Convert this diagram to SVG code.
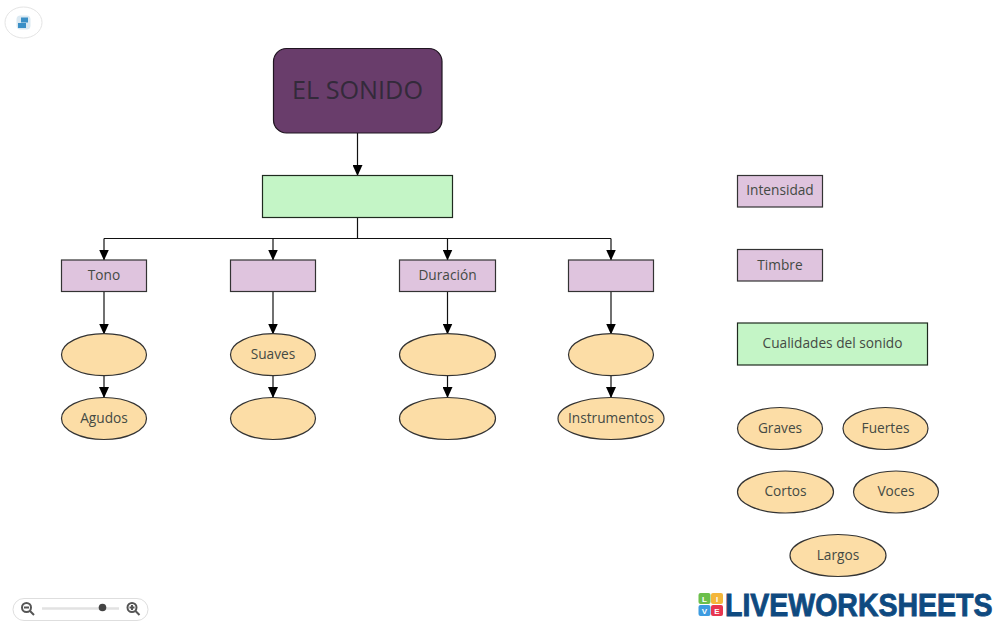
<svg xmlns="http://www.w3.org/2000/svg" width="1000" height="625" viewBox="0 0 1000 625">
<style>
text{font-family:"Open Sans","Noto Sans","Liberation Sans",sans-serif;font-size:13.700px;fill:#444a44;text-anchor:middle}
.p{fill:#dfc4de;stroke:#333;stroke-width:1.200}
.g{fill:#c4f5c6;stroke:#1f2a1f;stroke-width:1.200}
.o{fill:#fcdda6;stroke:#333;stroke-width:1.200}
.c{fill:none;stroke:#111;stroke-width:1.200}
.a{marker-end:url(#arr)}
.ui{fill:none;stroke:#555;stroke-width:2}
.t{font-family:"Liberation Sans",sans-serif;font-size:8px;font-weight:700;fill:#fff}
</style>
<defs>
<marker id="arr" markerUnits="userSpaceOnUse" markerWidth="11" markerHeight="10" refX="10.500" refY="5" orient="auto">
<path d="M0 0L11 5L0 10Z" fill="#000"/>
</marker>
</defs>
<rect width="1000" height="625" fill="#fff"/>
<g id="connectors">
<path class="c a" d="M357.500 133V175.500"/>
<path class="c" d="M357.500 217.500V238.500"/>
<path class="c" d="M104 238.500H611"/>
<path class="c a" d="M104 238.500V260"/>
<path class="c a" d="M273 238.500V260"/>
<path class="c a" d="M447.500 238.500V260"/>
<path class="c a" d="M611 238.500V260"/>
<path class="c a" d="M104 291.500V334"/>
<path class="c a" d="M273 291.500V334"/>
<path class="c a" d="M447.500 291.500V334"/>
<path class="c a" d="M611 291.500V334"/>
<path class="c a" d="M104 375.500V397.500"/>
<path class="c a" d="M273 375.500V397.500"/>
<path class="c a" d="M447.500 375.500V397.500"/>
<path class="c a" d="M611 375.500V397.500"/>
</g>
<g id="n-sonido"><rect x="273.500" y="48.500" width="168.500" height="84.500" rx="13" fill="#693d6b" stroke="#1f1420" stroke-width="1.200"/><text x="357.500" y="99" style="font-size:25.200px;fill:#332a3a">EL SONIDO</text></g>
<g id="n-green"><rect class="g" x="262.500" y="175.500" width="190" height="42"/></g>
<g id="n-tono"><rect class="p" x="61.500" y="260" width="85" height="31.500"/><text x="104" y="279.500">Tono</text></g>
<g id="n-blank1"><rect class="p" x="230.500" y="260" width="85" height="31.500"/></g>
<g id="n-duracion"><rect class="p" x="399.500" y="260" width="96" height="31.500"/><text x="447.500" y="279.500">Duración</text></g>
<g id="n-blank2"><rect class="p" x="568.500" y="260" width="85" height="31.500"/></g>
<g id="n-e1"><ellipse class="o" cx="104" cy="354.700" rx="42.500" ry="21"/></g>
<g id="n-suaves"><ellipse class="o" cx="273" cy="354.700" rx="42.500" ry="21"/><text x="273" y="359">Suaves</text></g>
<g id="n-e2"><ellipse class="o" cx="447.500" cy="354.700" rx="48" ry="21"/></g>
<g id="n-e3"><ellipse class="o" cx="611" cy="354.700" rx="42.500" ry="21"/></g>
<g id="n-agudos"><ellipse class="o" cx="104" cy="418.500" rx="42.500" ry="21"/><text x="104" y="422.800">Agudos</text></g>
<g id="n-e4"><ellipse class="o" cx="273" cy="418.500" rx="42.500" ry="21"/></g>
<g id="n-e5"><ellipse class="o" cx="447.500" cy="418.500" rx="48" ry="21"/></g>
<g id="n-instrumentos"><ellipse class="o" cx="611" cy="418.500" rx="53" ry="21"/><text x="611" y="422.800">Instrumentos</text></g>
<g id="n-intensidad"><rect class="p" x="737.500" y="175.500" width="85" height="31.500"/><text x="780" y="195.300">Intensidad</text></g>
<g id="n-timbre"><rect class="p" x="737.500" y="249.500" width="85" height="31.500"/><text x="780" y="269.500">Timbre</text></g>
<g id="n-cualidades"><rect class="g" x="737.500" y="323" width="190" height="42"/><text x="832.500" y="348.300">Cualidades del sonido</text></g>
<g id="n-graves"><ellipse class="o" cx="780" cy="428.500" rx="42.500" ry="21"/><text x="780" y="432.800">Graves</text></g>
<g id="n-fuertes"><ellipse class="o" cx="885.500" cy="428.500" rx="42.500" ry="21"/><text x="885.500" y="432.800">Fuertes</text></g>
<g id="n-cortos"><ellipse class="o" cx="785.500" cy="492" rx="48" ry="21"/><text x="785.500" y="496.300">Cortos</text></g>
<g id="n-voces"><ellipse class="o" cx="896" cy="492" rx="42.500" ry="21"/><text x="896" y="496.300">Voces</text></g>
<g id="n-largos"><ellipse class="o" cx="838" cy="555.500" rx="48" ry="21"/><text x="838" y="559.800">Largos</text></g>
<g id="ui-top">
<ellipse cx="23.500" cy="22.500" rx="18.500" ry="15.500" fill="#fff" stroke="#e4e4e4"/>
<rect x="16.500" y="15.500" width="14" height="14" rx="4" fill="#dbe9f2"/>
<path d="M21 17.500h7v5h-7zM18 23h8v5h-8z" fill="#3a8fc6"/>
</g>
<g id="ui-zoom">
<rect x="13" y="598.500" width="135" height="22" rx="11" fill="#fff" stroke="#dedede"/>
<path d="M42 608.500H119" stroke="#e2e2e2" stroke-width="2.500"/>
<circle cx="102.500" cy="607.500" r="3.800" fill="#444"/>
<circle cx="26.500" cy="607.500" r="4.500" class="ui"/><path class="ui" d="M30 611L34 615M24 607.500H29"/>
<circle cx="132" cy="607.500" r="4.500" class="ui"/><path class="ui" d="M135.500 611L139.500 615M129.500 607.500H134.500M132 605V610"/>
</g>
<g id="logo">
<rect x="698.500" y="593" width="12" height="11" rx="2" fill="#6cbf4b"/>
<rect x="711" y="593" width="12" height="11" rx="2" fill="#f4b63a"/>
<rect x="698.500" y="605" width="12" height="11" rx="2" fill="#3d9be0"/>
<rect x="711" y="605" width="12" height="11" rx="2" fill="#e8354f"/>
<text class="t" x="704.500" y="601.800">L</text>
<text class="t" x="717" y="601.800">I</text>
<text class="t" x="704.500" y="613.800">V</text>
<text class="t" x="717" y="613.800">E</text>
<text transform="translate(725 616) scale(1 1.090)" style="font-family:'Liberation Sans',sans-serif;font-weight:700;font-size:28.500px;fill:#0f4a80;text-anchor:start;stroke:#0f4a80;stroke-width:.8">LIVEWORKSHEETS</text>
</g>
</svg>
